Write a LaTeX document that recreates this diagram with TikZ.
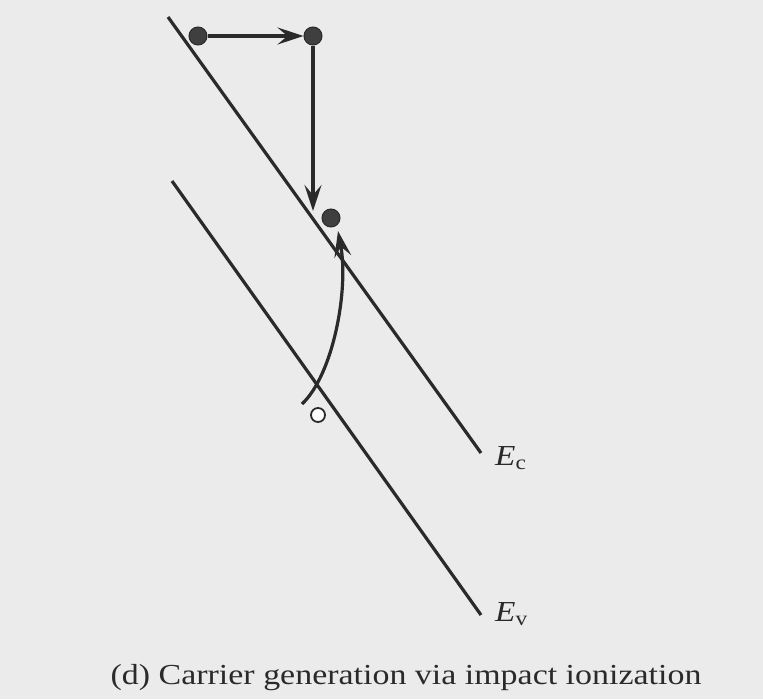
\documentclass[tikz,border=0pt]{standalone}
\usepackage{fontspec}
\setmainfont{Liberation Serif}
\usetikzlibrary{arrows.meta}
\definecolor{bg}{HTML}{EBEBEB}
\definecolor{ink}{HTML}{2A2A2A}
\tikzset{
  band/.style={draw=ink, line width=3.2pt},
  conn/.style={draw=ink, line width=3.2pt, -{Stealth[length=26pt,width=17pt,inset=10pt]}},
  dot/.style={circle, fill=ink!90!white, draw=ink, line width=1pt, minimum size=18pt, inner sep=0pt},
  hole/.style={circle, draw=ink, line width=1.8pt, fill=white, minimum size=14pt, inner sep=0pt},
  lbl/.style={font=\fontsize{29}{32}\selectfont, text=ink, inner sep=0pt, anchor=west}
}
\begin{document}
\begin{tikzpicture}[x=1pt,y=-1pt]
\fill[bg] (0,0) rectangle (763,699);
\useasboundingbox (0,0) rectangle (763,699);
\coordinate (ec1) at (168,17);
\coordinate (ec2) at (481,453);
\coordinate (ev1) at (172,181);
\coordinate (ev2) at (481,615);
\draw[band] (ec1) -- (ec2);
\draw[band] (ev1) -- (ev2);
\node[lbl] (ec) at (495,458) {\scalebox{1.15}[1]{\textit{E}\textsubscript{c}}};
\node[lbl] (ev) at (495,614) {\scalebox{1.15}[1]{\textit{E}\textsubscript{v}}};
\node[dot] (d1) at (198,36) {};
\node[dot] (d2) at (313,36) {};
\node[dot] (d3) at (331,218) {};
\node[hole] (h) at (318,415) {};
\coordinate (t1) at (313,211);
\coordinate (c0) at (302,404);
\coordinate (t2) at (338,231);
\draw[conn] (d1) -- (d2);
\draw[conn] (d2) -- (t1);
\draw[conn] (c0) .. controls (333,375) and (349,290) .. (t2);
\node[font=\fontsize{29}{32}\selectfont, text=ink, inner sep=0pt] (cap) at (406,678) {\scalebox{1.17}[1]{(d) Carrier generation via impact ionization}};
\end{tikzpicture}
\end{document}
